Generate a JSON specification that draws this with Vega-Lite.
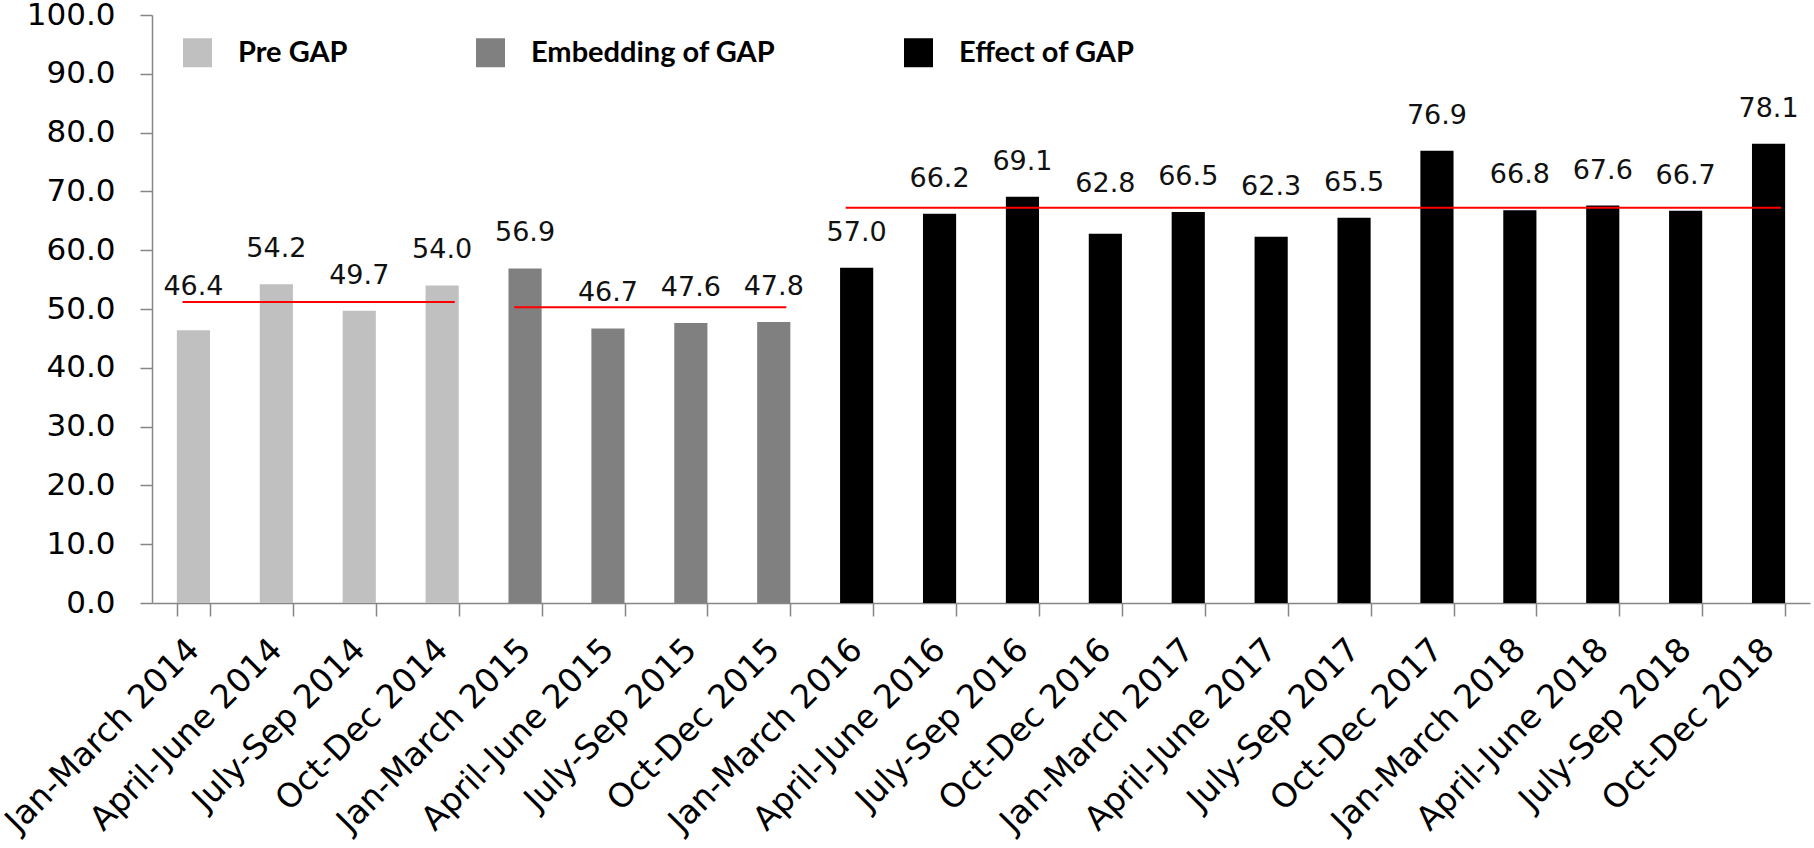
{
  "$schema": "https://vega.github.io/schema/vega-lite/v6.json",
  "autosize": {"type": "none"},
  "width": 1658,
  "height": 588,
  "padding": {"left": 152, "top": 15, "right": 4, "bottom": 245},
  "background": "white",
  "datasets": {
    "quarters": [
      {"quarter": "Jan-March 2014", "phase": "Pre GAP", "value": 46.4},
      {"quarter": "April-June 2014", "phase": "Pre GAP", "value": 54.2},
      {"quarter": "July-Sep 2014", "phase": "Pre GAP", "value": 49.7},
      {"quarter": "Oct-Dec 2014", "phase": "Pre GAP", "value": 54.0},
      {"quarter": "Jan-March 2015", "phase": "Embedding of GAP", "value": 56.9},
      {"quarter": "April-June 2015", "phase": "Embedding of GAP", "value": 46.7},
      {"quarter": "July-Sep 2015", "phase": "Embedding of GAP", "value": 47.6},
      {"quarter": "Oct-Dec 2015", "phase": "Embedding of GAP", "value": 47.8},
      {"quarter": "Jan-March 2016", "phase": "Effect of GAP", "value": 57.0},
      {"quarter": "April-June 2016", "phase": "Effect of GAP", "value": 66.2},
      {"quarter": "July-Sep 2016", "phase": "Effect of GAP", "value": 69.1},
      {"quarter": "Oct-Dec 2016", "phase": "Effect of GAP", "value": 62.8},
      {"quarter": "Jan-March 2017", "phase": "Effect of GAP", "value": 66.5},
      {"quarter": "April-June 2017", "phase": "Effect of GAP", "value": 62.3},
      {"quarter": "July-Sep 2017", "phase": "Effect of GAP", "value": 65.5},
      {"quarter": "Oct-Dec 2017", "phase": "Effect of GAP", "value": 76.9},
      {"quarter": "Jan-March 2018", "phase": "Effect of GAP", "value": 66.8},
      {"quarter": "April-June 2018", "phase": "Effect of GAP", "value": 67.6},
      {"quarter": "July-Sep 2018", "phase": "Effect of GAP", "value": 66.7},
      {"quarter": "Oct-Dec 2018", "phase": "Effect of GAP", "value": 78.1}
    ],
    "averages": [
      {"phase": "Pre GAP", "from": "Jan-March 2014", "to": "Oct-Dec 2014", "avg": 51.2},
      {"phase": "Embedding of GAP", "from": "Jan-March 2015", "to": "Oct-Dec 2015", "avg": 50.3},
      {"phase": "Effect of GAP", "from": "Jan-March 2016", "to": "Oct-Dec 2018", "avg": 67.2}
    ]
  },
  "encoding": {
    "x": {
      "field": "quarter",
      "type": "nominal",
      "sort": null,
      "scale": {
        "domain": ["Jan-March 2014", "April-June 2014", "July-Sep 2014", "Oct-Dec 2014",
                   "Jan-March 2015", "April-June 2015", "July-Sep 2015", "Oct-Dec 2015",
                   "Jan-March 2016", "April-June 2016", "July-Sep 2016", "Oct-Dec 2016",
                   "Jan-March 2017", "April-June 2017", "July-Sep 2017", "Oct-Dec 2017",
                   "Jan-March 2018", "April-June 2018", "July-Sep 2018", "Oct-Dec 2018"],
        "paddingInner": 0.6,
        "paddingOuter": 0.3
      },
      "axis": {
        "title": null,
        "labelAngle": -45,
        "labelAlign": "right",
        "labelBaseline": "middle",
        "labelPadding": 28,
        "labelFontSize": 33,
        "tickBand": "extent",
        "tickSize": 13
      }
    },
    "y": {
      "field": "value",
      "type": "quantitative",
      "scale": {"domain": [0, 100], "nice": false},
      "axis": {
        "title": null,
        "values": [0, 10, 20, 30, 40, 50, 60, 70, 80, 90, 100],
        "format": ".1f",
        "labelFontSize": 31,
        "labelPadding": 25,
        "tickSize": 12
      }
    }
  },
  "layer": [
    {
      "data": {"name": "quarters"},
      "mark": {"type": "bar"},
      "encoding": {
        "color": {
          "field": "phase",
          "type": "nominal",
          "scale": {
            "domain": ["Pre GAP", "Embedding of GAP", "Effect of GAP"],
            "range": ["#c0c0c0", "#808080", "#000000"]
          },
          "legend": {
            "title": null,
            "orient": "none",
            "legendX": 31,
            "legendY": 23,
            "direction": "horizontal",
            "padding": 0,
            "symbolType": "square",
            "symbolSize": 841,
            "symbolStrokeWidth": 0,
            "labelFont": "Lato",
            "labelFontWeight": "bold",
            "labelFontSize": 29,
            "labelColor": "black",
            "labelLimit": 0,
            "labelOffset": 26,
            "columnPadding": 128
          }
        }
      }
    },
    {
      "data": {"name": "quarters"},
      "transform": [{"filter": {"not": {"field": "quarter", "oneOf": ["Jan-March 2014", "Oct-Dec 2016", "April-June 2017"]}}}],
      "mark": {"type": "text", "baseline": "alphabetic", "dy": -27, "fontSize": 27, "font": "DejaVu Sans", "color": "#111111"},
      "encoding": {
        "text": {"field": "value", "type": "quantitative", "format": ".1f"}
      }
    },
    {
      "data": {"name": "quarters"},
      "transform": [{"filter": {"field": "quarter", "oneOf": ["Oct-Dec 2016", "April-June 2017"]}}],
      "mark": {"type": "text", "baseline": "alphabetic", "dy": -42, "fontSize": 27, "font": "DejaVu Sans", "color": "#111111"},
      "encoding": {
        "text": {"field": "value", "type": "quantitative", "format": ".1f"}
      }
    },
    {
      "data": {"name": "quarters"},
      "transform": [{"filter": {"field": "quarter", "equal": "Jan-March 2014"}}],
      "mark": {"type": "text", "baseline": "alphabetic", "dy": -35, "fontSize": 27, "font": "DejaVu Sans", "color": "#111111"},
      "encoding": {
        "text": {"field": "value", "type": "quantitative", "format": ".1f"}
      }
    },
    {
      "data": {"name": "averages"},
      "mark": {"type": "rule", "color": "#ff0000", "strokeWidth": 2},
      "encoding": {
        "x": {"field": "from", "type": "nominal", "bandPosition": 0.17},
        "x2": {"field": "to", "bandPosition": 0.88},
        "y": {"field": "avg", "type": "quantitative"}
      }
    }
  ],
  "config": {
    "font": "DejaVu Sans",
    "view": {"stroke": null},
    "axis": {
      "grid": false,
      "labelFont": "DejaVu Sans",
      "labelColor": "black",
      "domainColor": "#868686",
      "domainWidth": 1.5,
      "tickColor": "#868686",
      "tickWidth": 1.5,
      "labelOverlap": false,
      "labelLimit": 0
    }
  }
}
